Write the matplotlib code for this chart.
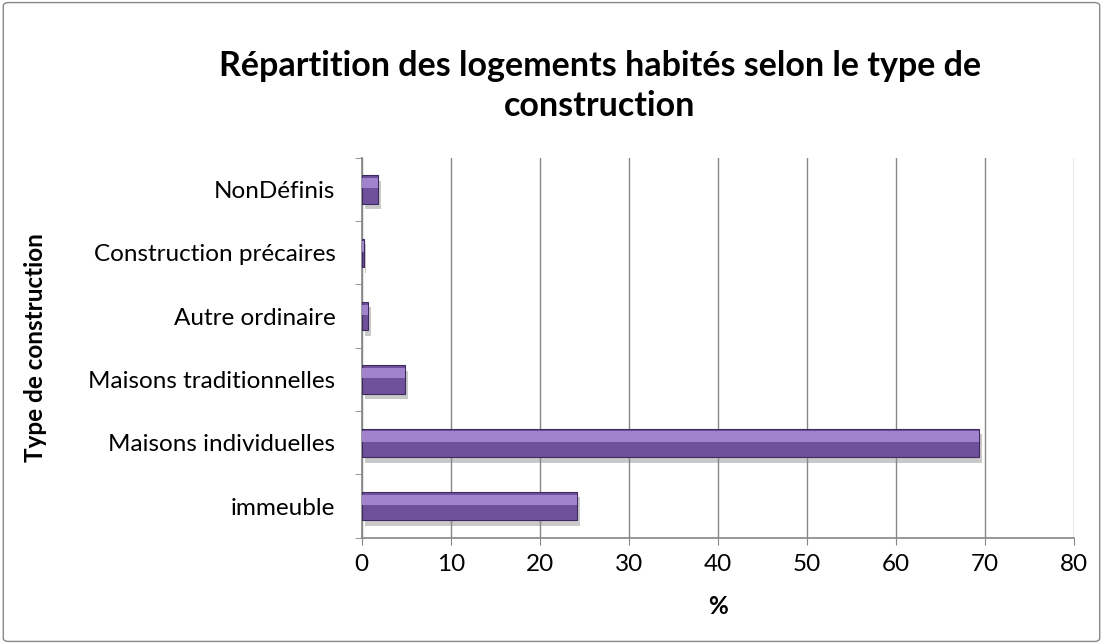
import numpy as np
import matplotlib.pyplot as plt
import matplotlib.patheffects as pe
from matplotlib.patches import FancyBboxPatch

categories = ["immeuble", "Maisons individuelles", "Maisons traditionnelles",
              "Autre ordinaire", "Construction précaires", "NonDéfinis"]
values = [24.2, 69.3, 4.9, 0.7, 0.2, 1.8]

plt.rcParams['font.family'] = ['Lato', 'DejaVu Sans']

fig = plt.figure(figsize=(11.03, 6.44), dpi=100)
ax = fig.add_axes([0.328, 0.165, 0.646, 0.59])

y = np.arange(len(categories))
bars = ax.barh(y, values, height=0.45, color='#6E519A', edgecolor='#3E2A5E',
               linewidth=0.8, zorder=3)
for b in bars:
    b.set_path_effects([pe.SimplePatchShadow(offset=(2, -4), shadow_rgbFace='#888888', alpha=0.45),
                        pe.Normal()])
    # lighter top band, like the bevel in the original
    x0, y0 = b.get_x(), b.get_y()
    w, h = b.get_width(), b.get_height()
    ax.barh(y0 + h * 0.72, w, height=h * 0.36, left=x0, color='#A083CC',
            linewidth=0, zorder=4)

ax.set_xlim(0, 80)
ax.set_ylim(-0.5, len(categories) - 0.5)
ax.set_xticks(np.arange(0, 81, 10))
ax.set_yticks(y)
ax.set_yticklabels(categories)
ax.set_yticks(np.arange(-0.5, len(categories), 1), minor=True)
ax.tick_params(axis='y', which='major', length=0, pad=19, labelsize=17.5)
ax.tick_params(axis='y', which='minor', length=5, color='#868686')
ax.tick_params(axis='x', length=5, color='#868686', labelsize=17.5, pad=7)
ax.grid(axis='x', color='#868686', linewidth=1, zorder=0)

for s in ['top', 'right']:
    ax.spines[s].set_visible(False)
for s in ['left', 'bottom']:
    ax.spines[s].set_color('#868686')
    ax.spines[s].set_linewidth(1.2)

ax.set_xlabel('%', fontsize=17.5, fontweight='bold', labelpad=14)
fig.text(0.032, 0.46, 'Type de construction', rotation=90, fontsize=17.5,
         fontweight='bold', ha='center', va='center')
fig.text(0.544, 0.922, 'Répartition des logements habités selon le type de\nconstruction',
         ha='center', va='top', fontsize=24.5, fontweight='bold', linespacing=1.3)

fig.patches.append(FancyBboxPatch((0.003, 0.004), 0.994, 0.992,
                                  boxstyle='round,pad=0,rounding_size=0.005',
                                  transform=fig.transFigure, fill=False,
                                  edgecolor='#888888', linewidth=1))

fig.savefig('out.png', dpi=100)
